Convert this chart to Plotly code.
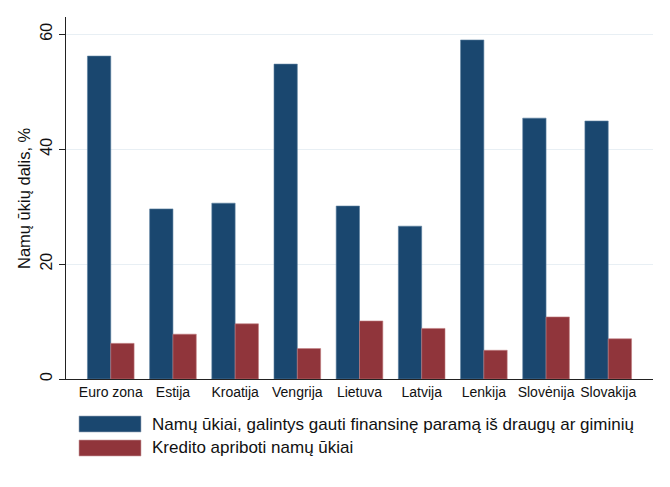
import plotly.graph_objects as go

categories = ["Euro zona", "Estija", "Kroatija", "Vengrija", "Lietuva",
              "Latvija", "Lenkija", "Slovėnija", "Slovakija"]
support_share = [56.2, 29.6, 30.6, 54.8, 30.1, 26.6, 59.0, 45.4, 44.9]
credit_constrained = [6.2, 7.8, 9.6, 5.3, 10.1, 8.8, 5.0, 10.8, 7.0]
series_names = ["Namų ūkiai, galintys gauti finansinę paramą iš draugų ar giminių",
                "Kredito apriboti namų ūkiai"]
y_title = "Namų ūkių dalis, %"
y_ticks = [0, 20, 40, 60]

BLUE = "#1a476f"
RED = "#90353b"
FONT = "Liberation Sans, Arial, sans-serif"

# plot area in page pixels (the page body adds an 8px offset)
PX0, PX1, PY0, PY1 = 66, 653, 17, 379
PW, PH = PX1 - PX0, PY1 - PY0


def px(x):
    return (x - PX0) / PW


def py(y):
    return (PY1 - y) / PH


fig = go.Figure()
fig.add_trace(go.Bar(x=categories, y=support_share, name=series_names[0],
                     marker=dict(color=BLUE, line=dict(color="#5a7fa0", width=0.6)),
                     showlegend=False))
fig.add_trace(go.Bar(x=categories, y=credit_constrained, name=series_names[1],
                     marker=dict(color=RED, line=dict(color="#c07a7e", width=0.6)),
                     showlegend=False))

# legend drawn manually (large swatches like the reference)
legend_items = [(series_names[0], BLUE), (series_names[1], RED)]
for i, (name, col) in enumerate(legend_items):
    y0 = 416 + i * 24
    fig.add_shape(type="rect", xref="paper", yref="paper",
                  x0=px(79), x1=px(141), y0=py(y0 + 16), y1=py(y0),
                  fillcolor=col, line=dict(color="#9aaabb" if i == 0 else "#c9a0a3", width=0.6))
    fig.add_annotation(xref="paper", yref="paper", x=px(150), y=py(y0 + 8),
                       text=name, showarrow=False, xanchor="left", yanchor="middle",
                       font=dict(family=FONT, size=17, color="#111111"))

# y-axis title placed as a rotated annotation
fig.add_annotation(xref="paper", yref="paper", x=px(24), y=0.5,
                   text=y_title, textangle=-90, showarrow=False,
                   xanchor="center", yanchor="middle",
                   font=dict(family=FONT, size=16.5, color="#111111"))

fig.update_layout(
    width=662, height=479,
    margin=dict(l=PX0 - 8, r=662 - (PX1 - 8), t=PY0 - 8, b=479 - (PY1 - 8), autoexpand=False),
    paper_bgcolor="white", plot_bgcolor="white",
    barmode="group", bargap=0.25, bargroupgap=0,
    font=dict(family=FONT, size=14, color="#111111"),
    xaxis=dict(range=[-0.72, 8.72], showline=True, linecolor="#222222", linewidth=1,
               ticks="", showgrid=False, tickangle=0, tickfont=dict(size=14),
               automargin=False),
    yaxis=dict(range=[0, 63], tickvals=y_ticks, tickangle=-90,
               showline=True, linecolor="#222222", linewidth=1,
               ticks="outside", ticklen=6, tickcolor="#222222",
               showgrid=True, gridcolor="#e8eff4", gridwidth=1, zeroline=False,
               tickfont=dict(size=16), ticklabelstandoff=1, automargin=False),
)

fig.write_html("out.html")
